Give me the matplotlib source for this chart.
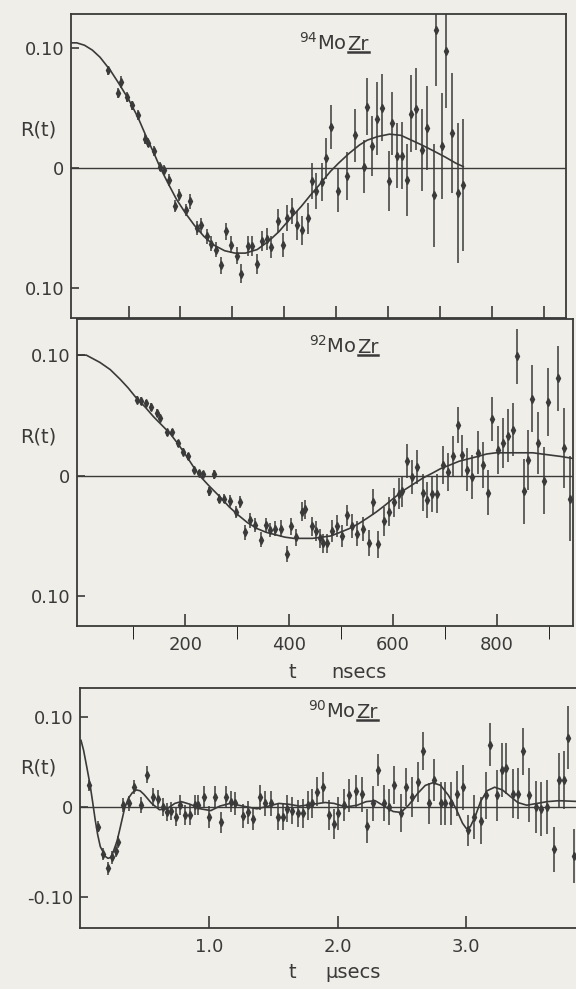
import matplotlib
matplotlib.use('Agg')
import matplotlib.pyplot as plt
from matplotlib.lines import Line2D

# --- 94MoZr (t in ns) ---
t94 = [61, 79, 85, 97, 106, 118, 131, 138, 148, 160, 169, 178, 189, 198, 210, 219, 231, 240, 251, 259,
       268, 279, 288, 298, 309, 317, 330, 337, 348, 357, 366, 375, 387, 397, 405, 415, 424, 434, 445, 453,
       462, 472, 481, 491, 503, 521, 537, 553, 559, 569, 578, 588, 601, 608, 618, 627, 637, 645, 654, 665,
       676, 688, 693, 704, 712, 724, 734, 745]
r94 = [0.081, 0.062, 0.071, 0.059, 0.052, 0.044, 0.024, 0.021, 0.014, 0.001,
       -0.002, -0.010, -0.032, -0.023, -0.035, -0.028, -0.050, -0.048, -0.057, -0.063,
       -0.068, -0.081, -0.053, -0.064, -0.073, -0.088, -0.065, -0.065, -0.080, -0.061,
       -0.059, -0.066, -0.044, -0.064, -0.042, -0.036, -0.048, -0.052, -0.042, -0.011,
       -0.019, -0.012, 0.008, 0.034, -0.019, -0.007, 0.027, 0.001, 0.051, 0.018,
       0.041, 0.050, -0.011, 0.037, 0.010, 0.010, -0.010, 0.045, 0.049, 0.015,
       0.033, -0.023, 0.115, 0.018, 0.097, 0.029, -0.021, -0.014]
e94 = [0.004, 0.004, 0.005, 0.004, 0.004, 0.004, 0.004, 0.004, 0.004, 0.004,
       0.004, 0.005, 0.005, 0.005, 0.005, 0.006, 0.006, 0.006, 0.006, 0.006,
       0.006, 0.007, 0.007, 0.007, 0.007, 0.008, 0.008, 0.008, 0.008, 0.008,
       0.009, 0.009, 0.010, 0.010, 0.011, 0.011, 0.012, 0.012, 0.013, 0.015,
       0.015, 0.016, 0.017, 0.018, 0.018, 0.020, 0.022, 0.022, 0.024, 0.025,
       0.030, 0.028, 0.025, 0.026, 0.027, 0.028, 0.030, 0.032, 0.034, 0.034,
       0.035, 0.043, 0.047, 0.044, 0.047, 0.050, 0.058, 0.055]
fit94_t = [-11, 0, 15, 30, 45, 65, 80, 100, 118, 135, 150, 160, 175, 192, 210, 227, 245, 263, 285, 305,
           325, 348, 370, 390, 410, 433, 450, 468, 489, 505, 525, 545, 560, 580, 603, 625, 645, 665, 688,
           710, 730, 745]
fit94_r = [0.104, 0.104, 0.102, 0.098, 0.092, 0.081, 0.071, 0.057, 0.042, 0.025, 0.011, 0.001, -0.012,
           -0.026, -0.038, -0.048, -0.057, -0.064, -0.069, -0.071, -0.071, -0.068, -0.061, -0.053, -0.043,
           -0.032, -0.023, -0.014, -0.003, 0.004, 0.012, 0.019, 0.023, 0.026, 0.028, 0.027, 0.023, 0.019,
           0.014, 0.009, 0.004, 0.001]

# --- 92MoZr (t in ns) ---
t92 = [107, 116, 125, 134, 145, 152, 166, 175, 186, 196, 205, 217, 226, 235, 246, 256, 266, 275, 286, 297,
       305, 316, 325, 335, 346, 355, 364, 373, 385, 395, 404, 413, 424, 431, 444, 452, 459, 466, 473, 482,
       493, 501, 512, 521, 530, 542, 553, 561, 571, 583, 593, 602, 611, 618, 627, 637, 646, 657, 666, 674,
       685, 695, 705, 715, 724, 733, 743, 752, 763, 772, 783, 791, 801, 811, 821, 830, 839, 851, 860, 868,
       878, 891, 897, 917, 929, 940]
r92 = [0.063, 0.062, 0.060, 0.057, 0.052, 0.048, 0.036, 0.036, 0.027, 0.020,
       0.016, 0.005, 0.002, 0.001, -0.013, 0.001, -0.019, -0.019, -0.021, -0.030,
       -0.022, -0.047, -0.037, -0.041, -0.053, -0.041, -0.045, -0.044, -0.044, -0.065,
       -0.042, -0.051, -0.030, -0.028, -0.042, -0.046, -0.052, -0.056, -0.056, -0.046,
       -0.042, -0.050, -0.033, -0.042, -0.048, -0.044, -0.056, -0.022, -0.057, -0.038,
       -0.030, -0.022, -0.015, -0.013, 0.012, -0.001, 0.007, -0.014, -0.020, -0.015,
       -0.015, 0.009, 0.003, 0.016, 0.042, 0.017, 0.005, -0.001, 0.019, 0.009,
       -0.014, 0.047, 0.021, 0.027, 0.033, 0.038, 0.099, -0.013, 0.013, 0.064,
       0.027, -0.004, 0.061, 0.081, 0.023, -0.019]
e92 = [0.003, 0.003, 0.003, 0.003, 0.003, 0.003, 0.003, 0.003, 0.003, 0.003,
       0.003, 0.003, 0.003, 0.003, 0.004, 0.004, 0.004, 0.004, 0.005, 0.005,
       0.005, 0.006, 0.006, 0.006, 0.006, 0.006, 0.006, 0.006, 0.007, 0.007,
       0.007, 0.007, 0.008, 0.008, 0.008, 0.008, 0.008, 0.008, 0.008, 0.009,
       0.009, 0.009, 0.009, 0.010, 0.010, 0.010, 0.011, 0.011, 0.011, 0.012,
       0.012, 0.012, 0.013, 0.013, 0.014, 0.014, 0.014, 0.015, 0.015, 0.015,
       0.016, 0.016, 0.016, 0.017, 0.015, 0.017, 0.018, 0.018, 0.018, 0.019,
       0.019, 0.018, 0.020, 0.021, 0.022, 0.022, 0.023, 0.027, 0.025, 0.028,
       0.026, 0.028, 0.028, 0.027, 0.033, 0.035]
fit92_t = [-8, 10, 36, 56, 75, 90, 107, 123, 139, 155, 171, 187, 203, 215, 228, 245, 268, 285, 303, 320,
           339, 356, 374, 392, 409, 427, 445, 462, 480, 498, 515, 533, 551, 568, 586, 603, 621, 639, 657,
           675, 692, 710, 727, 745, 763, 780, 798, 815, 833, 851, 869, 886, 904, 922, 950]
fit92_r = [0.100, 0.100, 0.094, 0.088, 0.080, 0.073, 0.064, 0.057, 0.049, 0.042, 0.035, 0.026, 0.016,
           0.008, 0.000, -0.008, -0.018, -0.026, -0.033, -0.039, -0.044, -0.047, -0.049, -0.051, -0.052,
           -0.052, -0.052, -0.051, -0.050, -0.047, -0.044, -0.040, -0.035, -0.030, -0.024, -0.018, -0.012,
           -0.007, -0.002, 0.002, 0.006, 0.009, 0.012, 0.014, 0.016, 0.018, 0.019, 0.019, 0.019, 0.019,
           0.019, 0.018, 0.017, 0.016, 0.014]

# --- 90MoZr (t in microseconds) ---
t90 = [0.06, 0.13, 0.17, 0.21, 0.24, 0.27, 0.29, 0.33, 0.37, 0.41, 0.47, 0.51, 0.56, 0.60, 0.64, 0.67,
       0.70, 0.74, 0.77, 0.81, 0.85, 0.89, 0.91, 0.96, 1.00, 1.04, 1.09, 1.13, 1.17, 1.20, 1.26, 1.30,
       1.34, 1.39, 1.43, 1.48, 1.53, 1.57, 1.60, 1.64, 1.69, 1.73, 1.77, 1.80, 1.84, 1.88, 1.93, 1.97,
       2.00, 2.05, 2.09, 2.14, 2.19, 2.23, 2.27, 2.31, 2.36, 2.40, 2.44, 2.49, 2.53, 2.58, 2.62, 2.66,
       2.71, 2.75, 2.80, 2.83, 2.88, 2.93, 2.97, 3.01, 3.06, 3.11, 3.15, 3.18, 3.24, 3.28, 3.31, 3.36,
       3.40, 3.44, 3.49, 3.54, 3.58, 3.63, 3.68, 3.72, 3.76, 3.79, 3.84]
r90 = [0.024, -0.022, -0.052, -0.068, -0.056, -0.049, -0.039, 0.002, 0.004, 0.022,
       0.002, 0.036, 0.011, 0.009, 0.000, -0.006, -0.004, -0.011, 0.002, -0.009,
       -0.009, 0.002, 0.002, 0.011, -0.011, 0.011, -0.017, 0.011, 0.006, 0.004,
       -0.010, -0.006, -0.013, 0.011, 0.004, 0.004, -0.011, -0.011, -0.002, -0.004,
       -0.007, -0.007, 0.002, 0.004, 0.017, 0.022, -0.009, -0.019, -0.007, 0.002,
       0.013, 0.018, 0.014, -0.021, 0.004, 0.041, 0.004, 0.000, 0.024, -0.007,
       0.022, 0.011, 0.028, 0.062, 0.004, 0.030, 0.004, 0.004, 0.004, 0.015,
       0.022, -0.026, -0.011, -0.015, 0.013, 0.069, 0.013, 0.041, 0.043, 0.015,
       0.015, 0.062, 0.013, 0.000, -0.002, 0.000, -0.047, 0.030, 0.030, 0.077, -0.054]
e90 = [0.006, 0.006, 0.007, 0.007, 0.007, 0.007, 0.007, 0.008, 0.008, 0.008,
       0.009, 0.009, 0.010, 0.010, 0.010, 0.010, 0.010, 0.010, 0.011, 0.011,
       0.011, 0.011, 0.011, 0.012, 0.012, 0.012, 0.012, 0.012, 0.012, 0.013,
       0.013, 0.013, 0.013, 0.014, 0.014, 0.014, 0.014, 0.015, 0.015, 0.015,
       0.015, 0.016, 0.016, 0.016, 0.016, 0.017, 0.017, 0.017, 0.018, 0.018,
       0.018, 0.018, 0.019, 0.019, 0.019, 0.018, 0.020, 0.020, 0.021, 0.021,
       0.021, 0.022, 0.022, 0.021, 0.023, 0.023, 0.024, 0.024, 0.024, 0.025,
       0.025, 0.017, 0.024, 0.026, 0.026, 0.024, 0.028, 0.030, 0.028, 0.027,
       0.028, 0.026, 0.030, 0.029, 0.030, 0.030, 0.025, 0.030, 0.032, 0.035, 0.030]
fit90_t = [0.0, 0.02, 0.044, 0.07, 0.09, 0.11, 0.13, 0.15, 0.19, 0.21, 0.23, 0.25, 0.28, 0.30, 0.34, 0.37,
           0.40, 0.43, 0.46, 0.49, 0.55, 0.61, 0.67, 0.73, 0.78, 0.85, 0.93, 1.01, 1.08, 1.16, 1.26, 1.37,
           1.46, 1.54, 1.62, 1.70, 1.80, 1.90, 1.97, 2.06, 2.15, 2.22, 2.29, 2.36, 2.43, 2.49, 2.55, 2.62,
           2.68, 2.74, 2.80, 2.86, 2.92, 2.97, 3.00, 3.03, 3.07, 3.11, 3.16, 3.22, 3.28, 3.34, 3.40, 3.47,
           3.55, 3.63, 3.72, 3.90]
fit90_r = [0.074, 0.063, 0.045, 0.025, 0.006, -0.014, -0.031, -0.044, -0.055, -0.057, -0.056, -0.050,
           -0.038, -0.026, -0.001, 0.010, 0.016, 0.019, 0.018, 0.014, 0.004, -0.003, -0.002, 0.004, 0.006,
           0.003, -0.002, -0.004, 0.001, 0.004, 0.001, -0.002, 0.001, 0.004, 0.003, 0.001, 0.003, 0.005,
           0.004, 0.000, 0.002, 0.006, 0.007, 0.001, -0.005, -0.006, 0.002, 0.015, 0.024, 0.027, 0.024,
           0.013, -0.002, -0.018, -0.024, -0.022, -0.010, 0.006, 0.018, 0.022, 0.019, 0.012, 0.005, 0.002,
           0.004, 0.006, 0.007, 0.006]

paper = '#efeee8'
ink = '#3a3a3a'
W, H = 576, 989

plt.rcParams['font.family'] = 'DejaVu Sans'
fig = plt.figure(figsize=(W / 100, H / 100), dpi=100, facecolor=paper)


def rect(l, t, r, b):
    return [l / W, 1 - b / H, (r - l) / W, (b - t) / H]


def style(ax):
    ax.set_facecolor(paper)
    for s in ax.spines.values():
        s.set_color(ink)
        s.set_linewidth(1.3)
    ax.axhline(0, color=ink, lw=1.0, zorder=1)
    ax.tick_params(axis='both', direction='in', color=ink, labelcolor=ink, width=1.2,
                   labelsize=13, pad=5)
    ax.tick_params(axis='x', which='both', length=9, top=False)
    ax.tick_params(axis='y', which='both', length=6, right=False)
    ax.tick_params(axis='x', pad=7)


def draw(ax, t, r, e, ft, fr):
    ax.plot(ft, fr, color=ink, lw=1.2, zorder=2)
    ax.errorbar(t, r, yerr=e, fmt='d', ms=4, color=ink, mfc=ink, mec=ink,
                elinewidth=1.1, capsize=0, zorder=3)


ax1 = fig.add_axes(rect(71, 14, 566, 318))
ax2 = fig.add_axes(rect(77, 319, 573, 626))
ax3 = fig.add_axes(rect(80, 688, 582, 928))

for ax in (ax1, ax2, ax3):
    style(ax)

draw(ax1, t94, r94, e94, fit94_t, fit94_r)
ax1.set_xlim(-11, 943)
ax1.set_ylim(-0.125, 0.128)
ax1.set_xticks([100, 200, 300, 400, 500, 600, 700, 800, 900])
ax1.set_xticklabels([])
ax1.set_yticks([-0.1, 0, 0.1])
ax1.set_yticklabels(['0.10', '0', '0.10'])

draw(ax2, t92, r92, e92, fit92_t, fit92_r)
ax2.set_xlim(-8, 946)
ax2.set_ylim(-0.1247, 0.130)
ax2.set_xticks([200, 400, 600, 800])
ax2.set_xticks([100, 300, 500, 700, 900], minor=True)
ax2.set_yticks([-0.1, 0, 0.1])
ax2.set_yticklabels(['0.10', '0', '0.10'])

draw(ax3, t90, r90, e90, fit90_t, fit90_r)
ax3.set_xlim(-0.008, 3.90)
ax3.set_ylim(-0.1344, 0.1322)
ax3.set_xticks([1.0, 2.0, 3.0])
ax3.set_xticklabels(['1.0', '2.0', '3.0'])
ax3.set_yticks([-0.1, 0, 0.1])
ax3.set_yticklabels(['-0.10', '0', '0.10'])
ax3.spines['right'].set_visible(False)


def ftext(x, y, s, **kw):
    return fig.text(x / W, 1 - y / H, s, color=ink, **kw)


for y in (130, 437, 768):
    ftext(38, y, 'R(t)', fontsize=14, ha='center', va='center')

ftext(292, 672, 't', fontsize=14, ha='center', va='center')
ftext(331, 672, 'nsecs', fontsize=14, ha='left', va='center')
ftext(292, 973, 't', fontsize=14, ha='center', va='center')
ftext(325, 973, 'µsecs', fontsize=14, ha='left', va='center')

# isotope labels, with "Zr" underlined
zr = []
for iso, xs, yb in (('94', 347, 50), ('92', 357, 353), ('90', 356, 718)):
    ftext(xs, yb, r'$^{%s}$Mo' % iso, fontsize=14, ha='right', va='baseline')
    zr.append(ftext(xs, yb, 'Zr', fontsize=14, ha='left', va='baseline'))

fig.canvas.draw()
rend = fig.canvas.get_renderer()
inv = fig.transFigure.inverted()
for txt in zr:
    bb = txt.get_window_extent(renderer=rend)
    x0, y0 = inv.transform((bb.x0 + 1, bb.y0 + 2))
    x1, _ = inv.transform((bb.x1, bb.y0 + 2))
    fig.add_artist(Line2D([x0, x1], [y0, y0], transform=fig.transFigure, color=ink, lw=1.8))

fig.savefig('out.png', dpi=100, facecolor=paper)
